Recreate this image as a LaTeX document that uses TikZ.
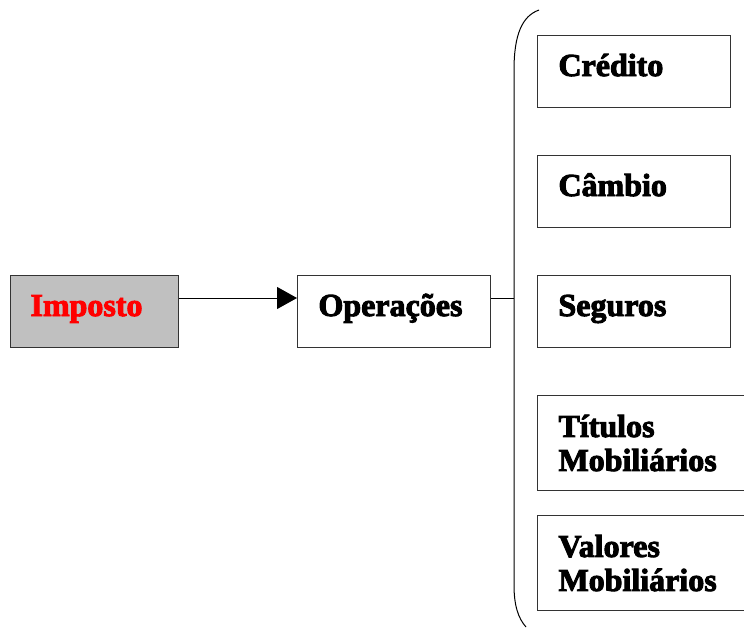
\documentclass[tikz,border=0pt]{standalone}
\usepackage{fontspec}
\setmainfont{Liberation Serif}
\newfontfamily\caixafont[FakeBold=3]{Liberation Serif Bold}
\usetikzlibrary{arrows.meta}
\definecolor{cinza}{RGB}{192,192,192}
\tikzset{
  caixa/.style={draw=black!80,line width=1pt,anchor=north west,inner xsep=21pt,inner ysep=0pt,
    minimum height=72pt,text width=#1-42pt,align=left,text height=20pt,text depth=11pt,
    font=\caixafont\fontsize{32}{34}\selectfont},
  caixa/.default=193pt,
  dupla/.style={minimum height=95pt,text height=,text depth=},
}
\begin{document}
\begin{tikzpicture}[x=1pt,y=-1pt]
\useasboundingbox(0,0)rectangle(744,627);
\clip(0,0)rectangle(744,627);
% esquerda
\node[caixa=168pt,fill=cinza,text=red,inner xsep=20pt,text width=128pt](imposto)at(10,275){Imposto};
\node[caixa](operacoes)at(297,275){Operações};
% direita
\node[caixa](credito)at(537,35){Crédito};
\node[caixa](cambio)at(537,155){Câmbio};
\node[caixa](seguros)at(537,275){Seguros};
\node[caixa=225pt,dupla](titulos)at(537,395){Títulos\\Mobiliários};
\node[caixa=225pt,dupla](valores)at(537,515){Valores\\Mobiliários};
% chave
\draw[line width=1pt](539,10) .. controls (522,16) and (514,35) .. (514,70)
  -- (514,585) .. controls (514,605) and (518,618) .. (526,627);
\coordinate(chave)at(514,298);
\draw[line width=1pt,-{Triangle[length=20pt,width=22pt]}](imposto.east|-chave)--(operacoes.west|-chave);
\draw[line width=1pt](operacoes.east|-chave)--(chave);
\end{tikzpicture}
\end{document}
